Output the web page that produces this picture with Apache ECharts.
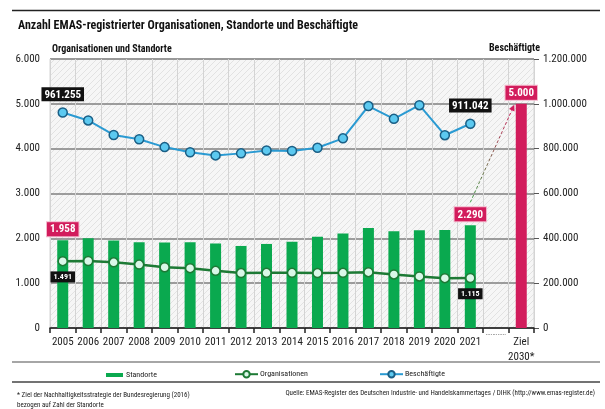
<!DOCTYPE html>
<html><head><meta charset="utf-8">
<script src="https://cdn.jsdelivr.net/npm/echarts@6/dist/echarts.min.js"></script>
<style>html,body{margin:0;padding:0;background:#fff}#c{width:605px;height:409px}</style>
</head><body><div id="c"></div>
<script>
const categories = ['2005','2006','2007','2008','2009','2010','2011','2012','2013','2014','2015','2016','2017','2018','2019','2020','2021','','Ziel\n2030*'];
const standorte = [1958,2000,1950,1910,1905,1910,1885,1830,1875,1925,2035,2110,2230,2160,2180,2185,2290,null,5000];
const organisationen = [1491,1495,1465,1415,1355,1335,1275,1225,1230,1230,1225,1230,1245,1195,1150,1112,1115,null,null];
const beschaeftigte = [961255,926000,861000,842000,807000,784000,770000,779000,792000,790000,804000,846000,990000,933000,994000,860000,911042,null,null];
const leftTicks = [0,1000,2000,3000,4000,5000,6000];
const rightTicks = [0,200000,400000,600000,800000,1000000,1200000];

const FONT = "'Liberation Sans Narrow','Roboto Condensed','DejaVu Sans Condensed',Roboto,sans-serif";
function fmt(v){return String(Math.round(v)).replace(/\B(?=(\d{3})+(?!\d))/g,'.');}

// hatch pattern
const pc = document.createElement('canvas'); pc.width = 6; pc.height = 6;
const pctx = pc.getContext('2d');
pctx.fillStyle = '#f6f6f6'; pctx.fillRect(0,0,6,6);
pctx.strokeStyle = '#e2e2e2'; pctx.lineWidth = 1;
pctx.beginPath(); pctx.moveTo(0,6); pctx.lineTo(6,0); pctx.moveTo(-1,1); pctx.lineTo(1,-1); pctx.moveTo(5,7); pctx.lineTo(7,5); pctx.stroke();

const blackLbl = {show:true, backgroundColor:'#111', color:'#fff', fontWeight:'bold', fontFamily:FONT, padding:[2,3,1,3]};
const pinkLbl = {show:true, position:'top', distance:4, backgroundColor:'#d21c5c', color:'#fff', fontWeight:'bold', fontFamily:FONT, fontSize:11, padding:[2,3,1,3], borderColor:'#f3b6cb', borderWidth:1, formatter:p=>fmt(p.value)};
const last = 16, zielIdx = 18;

const barData = standorte.map((v,i)=>{
  const d = {value:v};
  if (i===zielIdx) { d.itemStyle = {color:'#d21c5c'}; d.label = pinkLbl; }
  else if (i===0 || i===last) d.label = pinkLbl;
  return d;
});
const orgData = organisationen.map((v,i)=>{
  const d = {value:v};
  if (i===0 || i===last) d.label = Object.assign({}, blackLbl, {position:'bottom', distance:5, fontSize:8, formatter:p=>fmt(p.value)});
  return d;
});
const empData = beschaeftigte.map((v,i)=>{
  const d = {value:v};
  if (i===0 || i===last) d.label = Object.assign({}, blackLbl, {position:'top', distance:6, fontSize:11, formatter:p=>fmt(p.value)});
  return d;
});

const chart = echarts.init(document.getElementById('c'), null, {renderer:'canvas'});
const gridL = 50, gridR = 71, gridT = 59, gridB = 81;
chart.setOption({
  animation:false,
  textStyle:{fontFamily:FONT},
  grid:{left:gridL, right:gridR, top:gridT, bottom:gridB, show:true, backgroundColor:{image:pc, repeat:'repeat'}, borderColor:'#d4d4d4', borderWidth:1},
  title:[
    {text:'Anzahl EMAS-registrierter Organisationen, Standorte und Beschäftigte', left:13, top:15, textStyle:{fontSize:12, fontWeight:'bold', color:'#111', fontFamily:FONT}},
    {text:'Organisationen und Standorte', left:47, top:39, textStyle:{fontSize:10, fontWeight:'bold', color:'#111', fontFamily:FONT}},
    {text:'Beschäftigte', left:484, top:38, textStyle:{fontSize:10, fontWeight:'bold', color:'#111', fontFamily:FONT}},
    {text:'* Ziel der Nachhaltigkeitsstrategie der Bundesregierung (2016)\nbezogen auf Zahl der Standorte', left:12, top:385, textStyle:{fontSize:7, fontWeight:'normal', color:'#222', lineHeight:10, fontFamily:FONT}},
    {text:'Quelle: EMAS-Register des Deutschen Industrie- und Handelskammertages / DIHK (http://www.emas-register.de)', right:5, top:385, textStyle:{fontSize:7, fontWeight:'normal', color:'#222', fontFamily:FONT}}
  ],
  legend:[
    {data:[{name:'Standorte', icon:'rect'}], left:101, top:366, itemWidth:17, itemHeight:4, itemGap:0, textStyle:{fontSize:8, color:'#222', fontFamily:FONT, padding:[0,0,0,-2]}},
    {data:['Organisationen'], left:229, top:365, itemWidth:23, itemHeight:8, textStyle:{fontSize:8, color:'#222', fontFamily:FONT, padding:[0,0,0,-3]}},
    {data:['Beschäftigte'], left:374, top:365, itemWidth:23, itemHeight:8, textStyle:{fontSize:8, color:'#222', fontFamily:FONT, padding:[0,0,0,-3]}}
  ],
  xAxis:{type:'category', data:categories, boundaryGap:true,
    axisLine:{lineStyle:{color:'#222', width:1.5}},
    axisTick:{show:true, length:5, lineStyle:{color:'#222', width:1.5}},
    splitLine:{show:true, lineStyle:{color:'#d4d4d4', width:1}},
    axisLabel:{interval:0, fontSize:11, color:'#222', margin:7, lineHeight:15, fontFamily:FONT,
      formatter:v=> v==='' ? '{d|············}' : v,
      rich:{d:{fontSize:7, color:'#444', padding:[0,0,14,0]}}}
  },
  yAxis:[
    {type:'value', min:leftTicks[0], max:leftTicks[leftTicks.length-1], interval:1000,
      axisLine:{show:false}, axisTick:{show:false},
      splitLine:{lineStyle:{color:'#7f7f7f', width:1.5}},
      axisLabel:{fontSize:11, color:'#222', margin:10, fontFamily:FONT, formatter:fmt}},
    {type:'value', min:rightTicks[0], max:rightTicks[rightTicks.length-1], interval:200000,
      axisLine:{show:false}, axisTick:{show:true, length:5, lineStyle:{color:'#555'}},
      splitLine:{show:false},
      axisLabel:{fontSize:11, color:'#222', margin:9, fontFamily:FONT, formatter:fmt}}
  ],
  series:[
    {name:'Standorte', type:'bar', data:barData, barWidth:11, itemStyle:{color:'#0aa94f'}, z:2},
    {name:'Organisationen', type:'line', data:orgData, yAxisIndex:0, symbol:'circle', symbolSize:9,
      lineStyle:{color:'#1d7a35', width:2.5}, itemStyle:{color:'#d9f7e8', borderColor:'#1d7a35', borderWidth:1.5}, z:4},
    {name:'Beschäftigte', type:'line', data:empData, yAxisIndex:1, symbol:'circle', symbolSize:9,
      lineStyle:{color:'#2a9ad2', width:2}, itemStyle:{color:'#5cc9f0', borderColor:'#1a5f86', borderWidth:1.5}, z:4}
  ]
});

// arrow from 2021 label to the top of the target bar, computed from the scales
const p1 = chart.convertToPixel({gridIndex:0}, [categories[last], standorte[last]]);
const p2 = chart.convertToPixel({gridIndex:0}, [categories[zielIdx], standorte[zielIdx]]);
const sx = p1[0], sy = p1[1] - 23, ex = p2[0] - 7, ey = p2[1] + 1;
const ang = Math.atan2(ey - sy, ex - sx);
const ah = 6, aw = 3;
const bx = ex - ah*Math.cos(ang), by = ey - ah*Math.sin(ang);
chart.setOption({graphic:[
  {type:'line', shape:{x1:12,y1:10.5,x2:600,y2:10.5}, style:{stroke:'#222', lineWidth:1.5}, silent:true},
  {type:'line', shape:{x1:12,y1:362,x2:600,y2:362}, style:{stroke:'#888', lineWidth:1.5}, silent:true},
  {type:'line', shape:{x1:12,y1:382,x2:600,y2:382}, style:{stroke:'#444', lineWidth:1.5}, silent:true},
  {type:'line', shape:{x1:sx,y1:sy,x2:bx,y2:by}, z:10,
    style:{lineWidth:1, lineDash:[3,2], stroke:{type:'linear', x:0, y:1, x2:1, y2:0, colorStops:[{offset:0,color:'#3aa345'},{offset:1,color:'#d21c5c'}]}}},
  {type:'polygon', z:10, shape:{points:[[ex,ey],[bx+aw*Math.sin(ang), by-aw*Math.cos(ang)],[bx-aw*Math.sin(ang), by+aw*Math.cos(ang)]]}, style:{fill:'#d21c5c'}}
]});
</script></body></html>
